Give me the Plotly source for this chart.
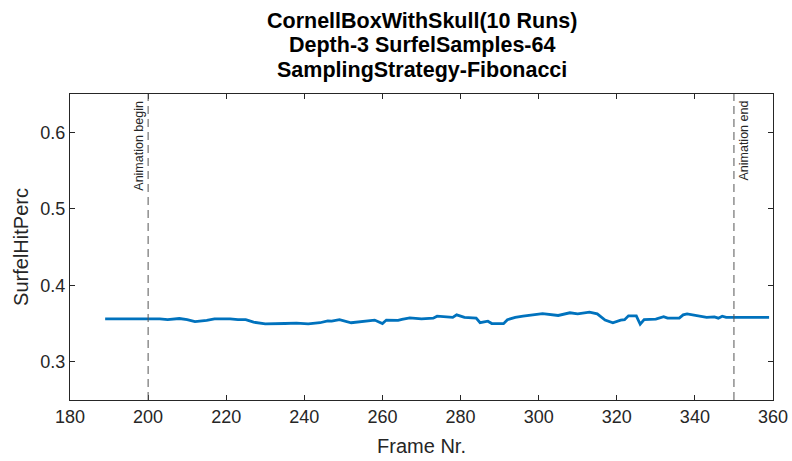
import plotly.graph_objects as go

frames = [189, 195, 200, 203, 205, 208, 210, 212, 215, 217, 221, 223, 225, 227, 230, 233,
          235, 238, 241, 244, 246, 247, 249, 252, 254, 256, 258, 260, 261, 264, 265, 267,
          270, 273, 274, 278, 279, 281, 284, 285, 287, 288, 291, 292, 294, 296, 298, 301,
          305, 308, 310, 313, 315, 317, 319, 321, 322, 323, 325, 326, 327, 330, 332, 333,
          336, 337, 338, 341, 343, 345, 346, 347, 348, 350, 359]
hit_perc = [0.356, 0.356, 0.356, 0.356, 0.355, 0.3565, 0.355, 0.3525, 0.354, 0.356, 0.356,
            0.355, 0.355, 0.3517, 0.3495, 0.3495, 0.350, 0.3505, 0.3495, 0.351, 0.3535, 0.353,
            0.355, 0.351, 0.352, 0.353, 0.3545, 0.350, 0.3545, 0.354, 0.3555, 0.3574, 0.356,
            0.357, 0.3596, 0.358, 0.3613, 0.358, 0.357, 0.351, 0.353, 0.350, 0.3498, 0.355,
            0.358, 0.3596, 0.3613, 0.363, 0.3605, 0.364, 0.3626, 0.3648, 0.3626, 0.3545, 0.351,
            0.3545, 0.355, 0.360, 0.360, 0.349, 0.355, 0.3557, 0.359, 0.357, 0.357, 0.3613,
            0.3626, 0.360, 0.358, 0.3587, 0.357, 0.3596, 0.358, 0.358, 0.358]

anim_begin = 200
anim_end = 350
x_ticks = [180, 200, 220, 240, 260, 280, 300, 320, 340, 360]
y_ticks = [0.3, 0.4, 0.5, 0.6]
title_lines = ["CornellBoxWithSkull(10 Runs)", "Depth-3 SurfelSamples-64", "SamplingStrategy-Fibonacci"]

FONT = "Liberation Sans, Arial, sans-serif"
AX = "#262626"

fig = go.Figure()
fig.add_trace(go.Scatter(x=frames, y=hit_perc, mode="lines",
                         line=dict(color="#0072BD", width=2.8), showlegend=False))

for xv in (anim_begin, anim_end):
    fig.add_shape(type="line", xref="x", yref="paper", x0=xv, x1=xv, y0=0, y1=1,
                  line=dict(color="#555555", width=1, dash="8px,5px"))

fig.add_annotation(x=anim_begin, xref="x", y=0.985, yref="paper", text="Animation begin",
                   textangle=-90, xanchor="right", yanchor="top", showarrow=False,
                   font=dict(family=FONT, size=12.5, color=AX), xshift=-1)
fig.add_annotation(x=anim_end, xref="x", y=0.985, yref="paper", text="Animation end",
                   textangle=-90, xanchor="left", yanchor="top", showarrow=False,
                   font=dict(family=FONT, size=12.5, color=AX), xshift=1)

# title lines (pixel-placed)
plot_top, plot_h = 94, 306
for line, ypx in zip(title_lines, [21, 45, 70]):
    fig.add_annotation(x=0.5, xref="paper", y=1 + (plot_top - ypx) / plot_h, yref="paper",
                       text="<b>%s</b>" % line, showarrow=False, xanchor="center", yanchor="middle",
                       font=dict(family=FONT, size=21.5, color="black"))

axis_common = dict(showline=True, linecolor=AX, linewidth=1, mirror="ticks", ticks="inside",
                   ticklen=5, tickcolor=AX, showgrid=False, zeroline=False, automargin=False,
                   tickfont=dict(family=FONT, size=18, color=AX))

fig.update_xaxes(range=[180, 360], tickvals=x_ticks, ticktext=[str(v) for v in x_ticks],
                 title=dict(text="Frame Nr.", font=dict(family=FONT, size=20, color=AX), standoff=13),
                 **axis_common)
fig.update_yaxes(range=[0.25, 0.65], tickvals=y_ticks, ticktext=[str(v) for v in y_ticks],
                 title=dict(text="SurfelHitPerc", font=dict(family=FONT, size=20, color=AX), standoff=6),
                 **axis_common)

fig.update_layout(width=792, height=461, margin=dict(l=70, r=19, t=94, b=61),
                  plot_bgcolor="white", paper_bgcolor="white")

fig.write_html("out.html")
